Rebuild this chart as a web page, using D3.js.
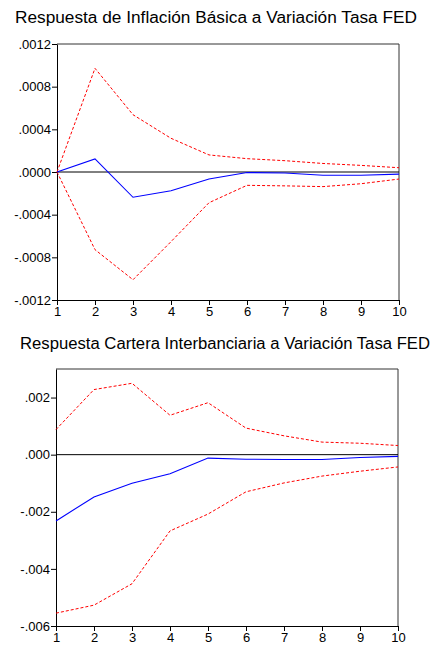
<!DOCTYPE html>
<html lang="en">
<head>
  <meta charset="UTF-8" />
  <title>Respuestas a Variación Tasa FED</title>
  <script src="https://d3js.org/d3.v7.min.js"></script>
  <style>
    body {
      margin: 0;
      background: #fff;
      font-family: "Liberation Sans", Arial, sans-serif;
    }
    svg text {
      fill: #000;
    }
  </style>
</head>
<body>
  <svg id="chart" width="434" height="645"></svg>

  <script>
    // horizons
    const periods = [1, 2, 3, 4, 5, 6, 7, 8, 9, 10];

    // chart 1: inflación básica
    const inflResp  = [0, 0.000122, -0.000237, -0.000175, -0.000066, -0.000005, -0.00001, -0.00003, -0.00003, -0.00002];
    const inflUpper = [0, 0.000972, 0.000537, 0.000316, 0.00016, 0.000125, 0.000106, 0.00008, 0.000062, 0.00004];
    const inflLower = [0, -0.000728, -0.00101, -0.000653, -0.000288, -0.000125, -0.00013, -0.000137, -0.00011, -0.000066];
    const inflTicks = [-0.0012, -0.0008, -0.0004, 0, 0.0004, 0.0008, 0.0012];

    // chart 2: cartera interbancaria
    const cartResp  = [-0.00232, -0.00148, -0.001, -0.00067, -0.00012, -0.00016, -0.00017, -0.00017, -0.0001, -0.00006];
    const cartUpper = [0.00088, 0.00228, 0.0025, 0.00138, 0.00182, 0.00093, 0.00066, 0.00044, 0.0004, 0.00032];
    const cartLower = [-0.00555, -0.00527, -0.00452, -0.00267, -0.00208, -0.0013, -0.00099, -0.00075, -0.00058, -0.00043];
    const cartTicks = [-0.006, -0.004, -0.002, 0, 0.002];

    const svg = d3.select("#chart");

    function fmt(digits) {
      return d => {
        if (d === 0) return "." + "0".repeat(digits);
        return d.toFixed(digits).replace("0.", ".");
      };
    }

    function drawPanel(opts) {
      const x = d3.scaleLinear().domain([1, 10]).range([opts.left, opts.right]);
      const y = d3.scaleLinear().domain(opts.domain).range([opts.bottom, opts.top]);

      svg.append("text")
        .attr("x", opts.titleX)
        .attr("y", opts.titleY)
        .attr("font-size", 16)
        .attr("textLength", opts.titleW)
        .attr("lengthAdjust", "spacingAndGlyphs")
        .text(opts.title);

      // frame (top and right)
      svg.append("path")
        .attr("d", `M${opts.left},${opts.top}H${opts.right}V${opts.bottom}`)
        .attr("fill", "none")
        .attr("stroke", "#333")
        .attr("stroke-width", 1);

      // zero line
      svg.append("line")
        .attr("x1", opts.left).attr("x2", opts.right)
        .attr("y1", y(0)).attr("y2", y(0))
        .attr("stroke", "#000")
        .attr("stroke-width", 1);

      const yAxis = svg.append("g")
        .attr("transform", `translate(${opts.left},0)`)
        .call(d3.axisLeft(y).tickValues(opts.ticks).tickFormat(fmt(opts.digits))
          .tickSize(5).tickSizeOuter(0).tickPadding(1));

      const xAxis = svg.append("g")
        .attr("transform", `translate(0,${opts.bottom})`)
        .call(d3.axisBottom(x).tickValues(periods).tickFormat(d3.format("d"))
          .tickSize(5).tickSizeOuter(0).tickPadding(2));

      [yAxis, xAxis].forEach(g => {
        g.selectAll("text")
          .attr("font-size", 13)
          .attr("font-family", "'Liberation Sans', Arial, sans-serif")
          .attr("fill", "#000");
        g.selectAll("path, line").attr("stroke", "#000");
      });

      const line = d3.line()
        .x((d, i) => x(periods[i]))
        .y(d => y(d));

      svg.append("path")
        .datum(opts.upper)
        .attr("d", line)
        .attr("fill", "none")
        .attr("stroke", "#ff0000")
        .attr("stroke-width", 1)
        .attr("stroke-dasharray", "3,2");

      svg.append("path")
        .datum(opts.lower)
        .attr("d", line)
        .attr("fill", "none")
        .attr("stroke", "#ff0000")
        .attr("stroke-width", 1)
        .attr("stroke-dasharray", "3,2");

      svg.append("path")
        .datum(opts.resp)
        .attr("d", line)
        .attr("fill", "none")
        .attr("stroke", "#0000ff")
        .attr("stroke-width", 1.1);
    }

    drawPanel({
      title: "Respuesta de Inflación Básica a Variación Tasa FED",
      titleX: 15, titleY: 23, titleW: 402,
      left: 57, right: 399, top: 44, bottom: 300,
      domain: [-0.0012, 0.0012], ticks: inflTicks, digits: 4,
      resp: inflResp, upper: inflUpper, lower: inflLower
    });

    drawPanel({
      title: "Respuesta Cartera Interbanciaria a Variación Tasa FED",
      titleX: 20, titleY: 349, titleW: 410,
      left: 56, right: 398, top: 369, bottom: 626,
      domain: [-0.006, 0.003], ticks: cartTicks, digits: 3,
      resp: cartResp, upper: cartUpper, lower: cartLower
    });
  </script>
</body>
</html>
